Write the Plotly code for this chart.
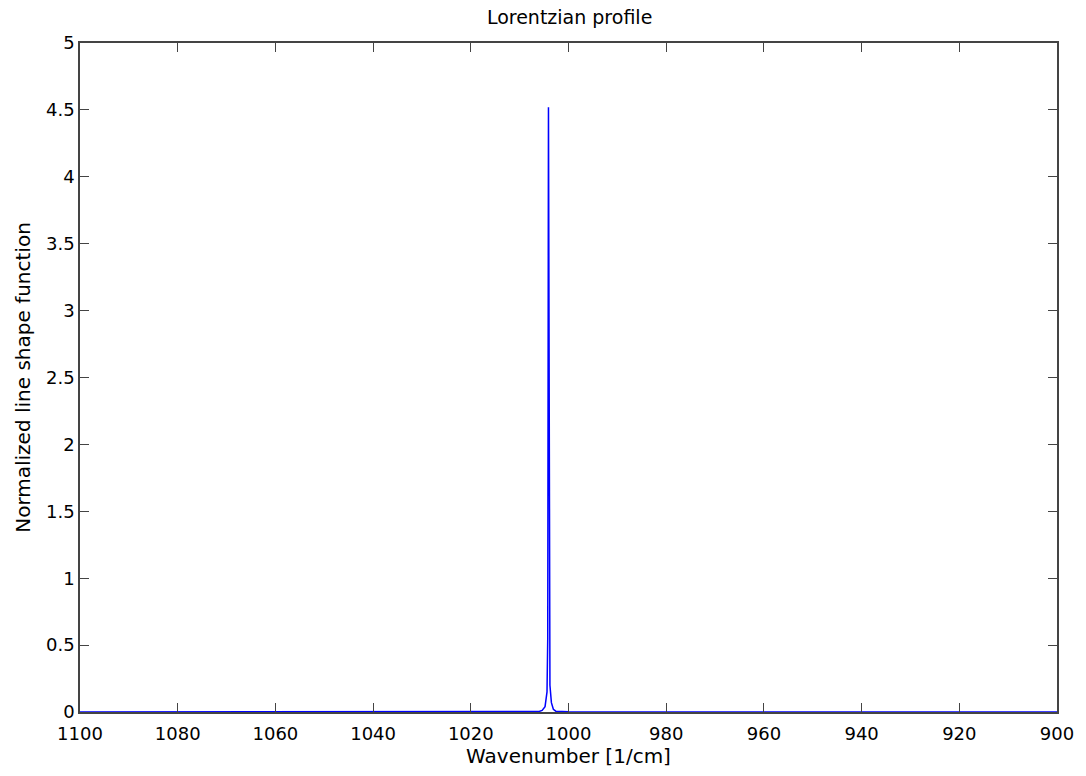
import plotly.graph_objects as go

# Data (wavenumber in 1/cm, normalized line shape)
wavenumber = [1100, 1010, 1006.0, 1005.4, 1004.8, 1004.4, 1004.25, 1004.1, 1003.95,
              1003.8, 1003.5, 1003.1, 1002.6, 1000, 900]
line_shape = [0.0, 0.001, 0.004, 0.012, 0.04, 0.15, 0.55, 4.52, 2.22,
              0.2, 0.07, 0.02, 0.006, 0.001, 0.0]

x_ticks = [1100, 1080, 1060, 1040, 1020, 1000, 980, 960, 940, 920, 900]
y_ticks = [0, 0.5, 1, 1.5, 2, 2.5, 3, 3.5, 4, 4.5, 5]
y_tick_text = ["0", "0.5", "1", "1.5", "2", "2.5", "3", "3.5", "4", "4.5", "5"]

font = "DejaVu Sans"

fig = go.Figure()
fig.add_trace(go.Scatter(
    x=wavenumber, y=line_shape, mode="lines",
    line=dict(color="#0000ff", width=1.5),
    showlegend=False, hoverinfo="x+y",
))

axis_common = dict(
    showgrid=False, zeroline=False, showline=True, linecolor="#444444",
    linewidth=1.5, mirror="ticks", ticks="inside", ticklen=9, tickwidth=1.2,
    tickcolor="#444444", tickfont=dict(family=font, size=18, color="#000000"),
)

fig.update_layout(
    width=1086, height=776,
    margin=dict(l=80, r=27, t=43, b=64),
    paper_bgcolor="white", plot_bgcolor="white",
    title=dict(text="Lorentzian profile", x=0.5245, xanchor="center",
               y=0.977, yanchor="middle",
               font=dict(family=font, size=19, color="#000000")),
    xaxis=dict(range=[1100, 900], tickvals=x_ticks,
               ticktext=[str(v) for v in x_ticks], ticklabelstandoff=5,
               title=dict(text="Wavenumber [1/cm]", standoff=3,
                          font=dict(family=font, size=20, color="#000000")),
               **axis_common),
    yaxis=dict(range=[0, 5], tickvals=y_ticks, ticktext=y_tick_text,
               title=dict(text="Normalized line shape function", standoff=10,
                          font=dict(family=font, size=20, color="#000000")),
               **axis_common),
)

fig.write_html("out.html")
